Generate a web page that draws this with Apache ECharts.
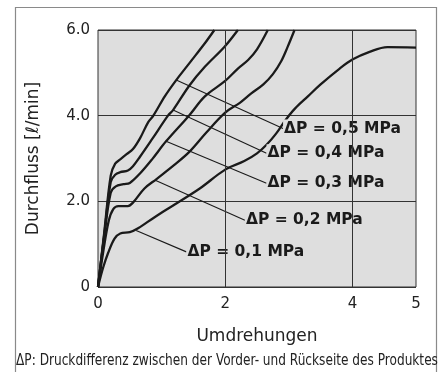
<!DOCTYPE html>
<html>
<head>
<meta charset="utf-8">
<script src="https://cdn.jsdelivr.net/npm/echarts@6/dist/echarts.min.js"></script>
<style>
html, body { margin: 0; padding: 0; background: #fff; }
#chart { width: 445px; height: 372px; }
</style>
</head>
<body>
<div id="chart"></div>
<script>
// Kennlinien: [Umdrehungen, Durchfluss l/min]
var curve01 = [[0,0],[0.08,0.45],[0.16,0.8],[0.26,1.13],[0.35,1.25],[0.5,1.28],[0.63,1.37],[0.89,1.63],[1.2,1.92],[1.6,2.3],[2.0,2.74],[2.3,2.94],[2.5,3.12],[2.65,3.32],[2.8,3.58],[2.95,3.9],[3.1,4.17],[3.3,4.45],[3.5,4.73],[3.8,5.1],[4.0,5.31],[4.27,5.49],[4.55,5.6],[5.0,5.59]];
var curve02 = [[0,0],[0.08,0.8],[0.17,1.55],[0.24,1.82],[0.32,1.89],[0.47,1.89],[0.55,1.97],[0.73,2.3],[0.92,2.52],[1.2,2.85],[1.44,3.16],[1.7,3.6],[2.0,4.07],[2.23,4.3],[2.41,4.52],[2.6,4.73],[2.75,4.97],[2.88,5.27],[2.98,5.6],[3.09,6.0]];
var curve03 = [[0,0],[0.1,1.2],[0.2,2.2],[0.28,2.35],[0.4,2.4],[0.5,2.43],[0.66,2.65],[0.85,2.98],[1.07,3.4],[1.43,4.0],[1.68,4.45],[1.99,4.8],[2.2,5.1],[2.36,5.3],[2.5,5.55],[2.67,6.0]];
var curve04 = [[0,0],[0.1,1.25],[0.2,2.45],[0.27,2.62],[0.35,2.68],[0.47,2.72],[0.55,2.82],[0.66,3.04],[0.85,3.45],[1.1,4.0],[1.18,4.13],[1.44,4.71],[1.68,5.14],[1.99,5.61],[2.2,6.0]];
var curve05 = [[0,0],[0.1,1.3],[0.2,2.6],[0.27,2.88],[0.35,2.98],[0.45,3.1],[0.55,3.22],[0.66,3.47],[0.79,3.85],[0.87,4.0],[1.05,4.45],[1.23,4.83],[1.45,5.25],[1.68,5.69],[1.83,6.0]];

// Bezugslinien zu den Beschriftungen
var leader01 = [[0.60,1.32],[1.39,0.82]];
var leader02 = [[0.90,2.49],[2.31,1.56]];
var leader03 = [[1.07,3.40],[2.65,2.42]];
var leader04 = [[1.18,4.13],[2.65,3.12]];
var leader05 = [[1.23,4.83],[2.91,3.70]];
var labelTexts = ['ΔP = 0,1 MPa','ΔP = 0,2 MPa','ΔP = 0,3 MPa','ΔP = 0,4 MPa','ΔP = 0,5 MPa'];

var xGridLines = [2, 4];
var hiddenXTicks = [1, 3];

var chart = echarts.init(document.getElementById('chart'));

var curves = [curve01, curve02, curve03, curve04, curve05];
var leaders = [leader01, leader02, leader03, leader04, leader05];
var bg = '#dedede';
var ink = '#1a1a1a';

var series = [{
  type: 'line',
  data: [[0,0]],
  symbol: 'none',
  lineStyle: { opacity: 0 },
  silent: true,
  z: 1,
  markLine: {
    silent: true,
    symbol: 'none',
    label: { show: false },
    lineStyle: { color: '#333', width: 1, type: 'solid' },
    data: xGridLines.map(function (v) { return { xAxis: v }; })
  }
}];

curves.forEach(function (c) {
  series.push({
    type: 'line',
    data: c,
    smooth: 0.35,
    symbol: 'none',
    lineStyle: { color: ink, width: 2.3 },
    z: 3
  });
});

leaders.forEach(function (l, i) {
  series.push({
    type: 'line',
    data: l,
    symbol: 'none',
    lineStyle: { color: ink, width: 1.1 },
    z: 4,
    endLabel: {
      show: true,
      formatter: labelTexts[i],
      distance: 0,
      fontFamily: 'DejaVu Sans',
      fontWeight: 'bold',
      fontSize: 15.5,
      color: ink,
      backgroundColor: bg,
      padding: [1, 1, 1, 1]
    }
  });
});

chart.setOption({
  animation: false,
  grid: {
    left: 98, right: 29, top: 30, bottom: 85,
    show: true,
    backgroundColor: bg,
    borderColor: '#333',
    borderWidth: 1
  },
  xAxis: {
    type: 'value',
    min: 0, max: 5, interval: 1,
    name: 'Umdrehungen',
    nameLocation: 'middle',
    nameGap: 41,
    nameTextStyle: { fontFamily: 'DejaVu Sans', fontSize: 17, color: '#222' },
    axisLine: { show: false },
    axisTick: { show: false },
    splitLine: { show: false },
    axisLabel: {
      margin: 10,
      fontFamily: 'DejaVu Sans', fontSize: 15, color: '#222',
      formatter: function (v) { return hiddenXTicks.indexOf(v) >= 0 ? '' : String(v); }
    }
  },
  yAxis: {
    type: 'value',
    min: 0, max: 6, interval: 2,
    name: 'Durchfluss [ℓ/min]',
    nameLocation: 'middle',
    nameGap: 56,
    nameTextStyle: { fontFamily: 'DejaVu Sans', fontSize: 17, color: '#222' },
    axisLine: { show: false },
    axisTick: { show: false },
    splitLine: { show: true, lineStyle: { color: '#333', width: 1 } },
    axisLabel: {
      margin: 8,
      fontFamily: 'DejaVu Sans', fontSize: 15, color: '#222',
      formatter: function (v) { return v === 0 ? '0' : v.toFixed(1); }
    }
  },
  graphic: [
    {
      type: 'rect',
      shape: { x: 15.5, y: 7.5, width: 421, height: 400 },
      style: { fill: null, stroke: '#8a8a8a', lineWidth: 1.2 },
      silent: true
    },
    {
      type: 'text',
      x: 227, y: 361,
      scaleX: 0.9,
      style: {
        text: 'ΔP: Druckdifferenz zwischen der Vorder- und Rückseite des Produktes',
        font: '15px "Liberation Sans Narrow", "DejaVu Sans Condensed", sans-serif',
        fill: '#222',
        align: 'center',
        verticalAlign: 'middle'
      },
      silent: true
    }
  ],
  series: series
});
</script>
</body>
</html>
